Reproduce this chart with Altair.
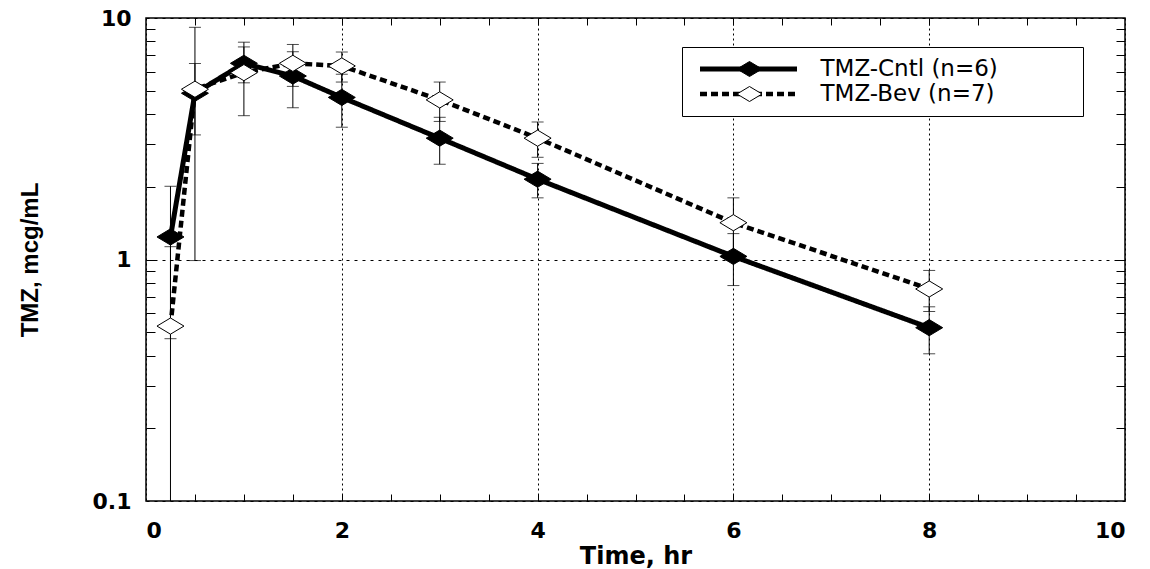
import altair as alt
import pandas as pd
import numpy as np

# ---- data ----
time_hr = [0.25, 0.5, 1, 1.5, 2, 3, 4, 6, 8]
cntl_mean = [1.24, 4.88, 6.49, 5.75, 4.69, 3.18, 2.15, 1.03, 0.522]
cntl_sd = [0.77, 1.6, 1.1, 1.5, 1.16, 0.7, 0.35, 0.25, 0.115]
bev_mean = [0.53, 5.07, 5.94, 6.49, 6.33, 4.58, 3.18, 1.42, 0.755]
bev_sd = [0.6, 4.08, 2.0, 1.28, 0.9, 0.85, 0.53, 0.38, 0.146]
series_names = ["TMZ-Cntl (n=6)", "TMZ-Bev (n=7)"]
series_codes = ["cntl", "bev"]

x_ticks = [0, 2, 4, 6, 8, 10]
x_minor = [0.5, 1, 1.5, 2, 2.5, 3, 3.5, 4, 4.5, 5, 5.5, 6, 6.5, 7, 7.5, 8, 8.5, 9, 9.5]
y_ticks = [0.1, 1, 10]
y_minor = [0.2, 0.3, 0.4, 0.5, 0.6, 0.7, 0.8, 0.9, 1, 2, 3, 4, 5, 6, 7, 8, 9]

Y_MIN, Y_MAX = 0.1, 10

rows = []
for name, code, means, sds in [(series_names[0], series_codes[0], cntl_mean, cntl_sd),
                               (series_names[1], series_codes[1], bev_mean, bev_sd)]:
    for t, m, s in zip(time_hr, means, sds):
        rows.append({"time": t, "mean": m, "sd": s, "series": name, "grp": code})
df = pd.DataFrame(rows)
df["lo_raw"] = df["mean"] - df["sd"]
df["lo"] = np.maximum(df["lo_raw"], Y_MIN)
df["hi"] = df["mean"] + df["sd"]

keep = df["lo_raw"] > Y_MIN
caps = pd.concat([
    df[["time", "series"]].assign(val=df["hi"]),
    df.loc[keep, ["time", "series"]].assign(val=df.loc[keep, "lo_raw"]),
])

xs = alt.Scale(domain=[0, 10], nice=False, zero=False)
ys = alt.Scale(type="log", domain=[Y_MIN, Y_MAX], nice=False)

LABEL_FONT = "DejaVu Sans"
DIAMOND = "M-1,0L0,-0.6L1,0L0,0.6Z"
PAD = "\u00a0" + "\u2800" * 4  # blank (invisible) glyphs that widen the legend box

# Layer A: error bar stems, carries main axes
rules = alt.Chart(df).mark_rule(color="black", strokeWidth=1).encode(
    x=alt.X("time:Q", scale=xs, axis=alt.Axis(
        orient="bottom", values=x_ticks, title="Time, hr", grid=True,
        gridDash=[2, 3], gridColor="black", gridOpacity=1, gridWidth=1,
        ticks=False, tickSize=0, domain=False, labelFont=LABEL_FONT, labelFontSize=22,
        labelFontWeight="bold", labelColor="black", labelPadding=19,
        titleFont=LABEL_FONT, titleFontSize=24, titleFontWeight="bold",
        titleColor="black", titlePadding=3)),
    y=alt.Y("lo:Q", scale=ys, axis=alt.Axis(
        orient="left", values=y_ticks, format="~g", title="TMZ, mcg/mL", grid=True,
        gridDash=[3, 5], gridColor="black", gridOpacity=1, gridWidth=1,
        ticks=False, tickSize=0, domain=False, labelFont=LABEL_FONT, labelFontSize=22,
        labelFontWeight="bold", labelColor="black", labelPadding=15,
        titleFont="Liberation Sans", titleFontSize=24, titleFontWeight="bold",
        titleColor="black", titlePadding=50)),
    y2="hi:Q",
)

# Layer B: error caps, carries bottom/left minor inward ticks
capmarks = alt.Chart(caps).mark_tick(orient="horizontal", size=12, thickness=1, color="black").encode(
    x=alt.X("time:Q", scale=xs, axis=alt.Axis(
        orient="bottom", values=x_minor, labels=False, tickSize=7, offset=-7,
        domain=False, grid=False, title=None, tickColor="black", tickWidth=1)),
    y=alt.Y("val:Q", scale=ys, axis=alt.Axis(
        orient="left", values=y_minor, labels=False, tickSize=9, offset=-9,
        domain=False, grid=False, title=None, tickColor="black", tickWidth=1)),
)

# Layer C: lines, carries top/right minor inward ticks and the line legend
lines = alt.Chart(df).mark_line(color="black").encode(
    x=alt.X("time:Q", scale=xs, axis=alt.Axis(
        orient="top", values=x_minor, labels=False, tickSize=7, offset=-7,
        domain=False, grid=False, title=None, tickColor="black", tickWidth=1)),
    y=alt.Y("mean:Q", scale=ys, axis=alt.Axis(
        orient="right", values=y_minor, labels=False, tickSize=9, offset=-9,
        domain=False, grid=False, title=None, tickColor="black", tickWidth=1)),
    strokeDash=alt.StrokeDash("series:N", scale=alt.Scale(domain=series_names, range=[[1, 0], [7, 4]]),
        legend=alt.Legend(
            orient="none", legendX=536, legendY=29, title=None,
            symbolType="M-1,0L1,0", symbolSize=9409, symbolStrokeWidth=4.5,
            symbolStrokeColor="black", symbolOffset=6, clipHeight=25, rowPadding=0,
            padding=9.5, labelOffset=21, labelFont=LABEL_FONT, labelFontSize=23,
            labelLimit=500, labelColor="black", fillColor="white", strokeColor="black",
            labelExpr="datum.label + '" + PAD + "'")),
    strokeWidth=alt.StrokeWidth("series:N", scale=alt.Scale(domain=series_names, range=[5, 4.5]), legend=None),
    order="time:Q",
)

# Layer D: diamonds, with a diamond-only legend overlaid on the line legend
points = alt.Chart(df).mark_point(shape=DIAMOND, size=729, filled=True, stroke="black",
                                  strokeWidth=1, opacity=1).encode(
    x=alt.X("time:Q", scale=xs, axis=None),
    y=alt.Y("mean:Q", scale=ys, axis=None),
    fill=alt.Fill("grp:N", scale=alt.Scale(domain=series_codes, range=["black", "white"]),
        legend=alt.Legend(
            orient="none", legendX=581, legendY=29, title=None,
            symbolType=DIAMOND, symbolSize=625, symbolStrokeColor="black",
            symbolStrokeWidth=1, clipHeight=25, rowPadding=0, padding=9.5,
            labelExpr="''", labelFontSize=1, symbolOffset=0)),
)

chart = alt.layer(rules, capmarks, lines, points).resolve_axis(
    x="independent", y="independent"
).properties(
    width=979, height=483, autosize="none",
    padding={"left": 146, "top": 18, "right": 25, "bottom": 68},
    background="white",
).configure_view(stroke="black", strokeWidth=1.5)

chart.save("out.html", embed_options={"renderer": "svg", "actions": False})
